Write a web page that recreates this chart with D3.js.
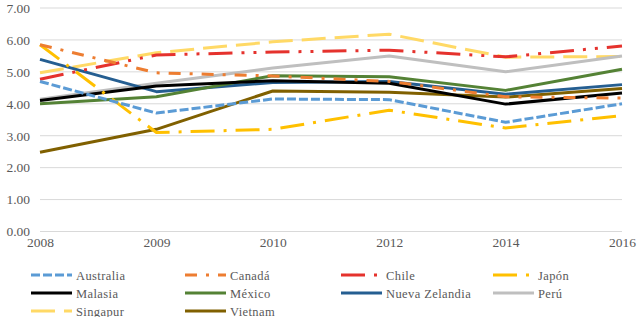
<!DOCTYPE html>
<html><head><meta charset="utf-8">
<script src="https://cdn.jsdelivr.net/npm/d3@7"></script>
<style>body{margin:0;background:#fff}svg{display:block}</style>
</head><body><svg id="c" width="639" height="317" font-family="Liberation Serif, serif"></svg>
<script>
const years = ["2008","2009","2010","2012","2014","2016"];
const yTicks = [0,1,2,3,4,5,6,7];
const names = ["Australia","Canadá","Chile","Japón","Malasia","México","Nueva Zelandia","Perú","Singapur","Vietnam"];
const australia = [4.70,3.71,4.15,4.13,3.42,4.00];
const canada    = [5.85,4.97,4.87,4.70,4.22,4.18];
const chile     = [4.77,5.53,5.62,5.68,5.47,5.81];
const japon     = [5.85,3.10,3.20,3.80,3.24,3.63];
const malasia   = [4.10,4.56,4.72,4.64,3.99,4.34];
const mexico    = [4.00,4.22,4.88,4.85,4.42,5.08];
const nuevaZelandia = [5.39,4.38,4.67,4.70,4.30,4.60];
const peru      = [4.14,4.64,5.12,5.50,5.00,5.50];
const singapur  = [4.97,5.60,5.94,6.18,5.46,5.48];
const vietnam   = [2.48,3.20,4.40,4.36,4.21,4.48];
const seriesValues = [australia,canada,chile,japon,malasia,mexico,nuevaZelandia,peru,singapur,vietnam];
const colors = ["#5B9BD5","#ED7D31","#E5322D","#FFC000","#000000","#548235","#255E91","#BFBFBF","#FFD966","#806000"];
const dashes = ["9,3","12,9,3,9","24,9,3,9,3,9","24,9,3,9",null,null,null,null,"24,9",null];

const FONT = "Liberation Serif";
const svg = d3.select("#c");
const x = d3.scalePoint().domain(years).range([40,622]);
const y = d3.scaleLinear().domain([0,7]).range([231.5,8]);

svg.append("g").selectAll("line").data(yTicks).join("line")
  .attr("x1",40).attr("x2",622).attr("y1",d=>y(d)).attr("y2",d=>y(d))
  .attr("stroke","#D9D9D9").attr("stroke-width",1);

const yAxis = d3.axisLeft(y).tickValues(yTicks).tickFormat(d3.format(".2f")).tickSize(0).tickPadding(10);
const ga = svg.append("g").attr("transform","translate(40,0)").call(yAxis);
ga.select(".domain").remove();
ga.attr("font-family",FONT).attr("font-size",13.5);
ga.selectAll("text").attr("fill","#595959").attr("font-family",FONT);

const xAxis = d3.axisBottom(x).tickSize(0).tickPadding(6);
const gx = svg.append("g").attr("transform","translate(0,231.5)").call(xAxis);
gx.select(".domain").remove();
gx.attr("font-family",FONT).attr("font-size",13.5);
gx.selectAll("text").attr("fill","#595959").attr("font-family",FONT);

const line = d3.line().x((d,i)=>x(years[i])).y(d=>y(d));
const order = [9,8,7,6,5,4,3,2,1,0];
svg.append("g").selectAll("path").data(order).join("path")
  .attr("d",i=>line(seriesValues[i]))
  .attr("fill","none").attr("stroke",i=>colors[i]).attr("stroke-width",3)
  .attr("stroke-dasharray",i=>dashes[i]).attr("stroke-linejoin","round");

const colX = [31,185,341,493];
const rowY = [275,293,311];
const lg = svg.append("g");
names.forEach((n,i)=>{
  const cx = colX[i%4], cy = rowY[Math.floor(i/4)];
  lg.append("line").attr("x1",cx).attr("x2",cx+41).attr("y1",cy).attr("y2",cy)
    .attr("stroke",colors[i]).attr("stroke-width",3).attr("stroke-dasharray",dashes[i]);
  lg.append("text").attr("x",cx+45).attr("y",cy+4.5).attr("font-size",12.5)
    .attr("font-family",FONT).attr("fill","#595959")
    .attr("letter-spacing",0.4).text(n);
});
</script></body></html>
